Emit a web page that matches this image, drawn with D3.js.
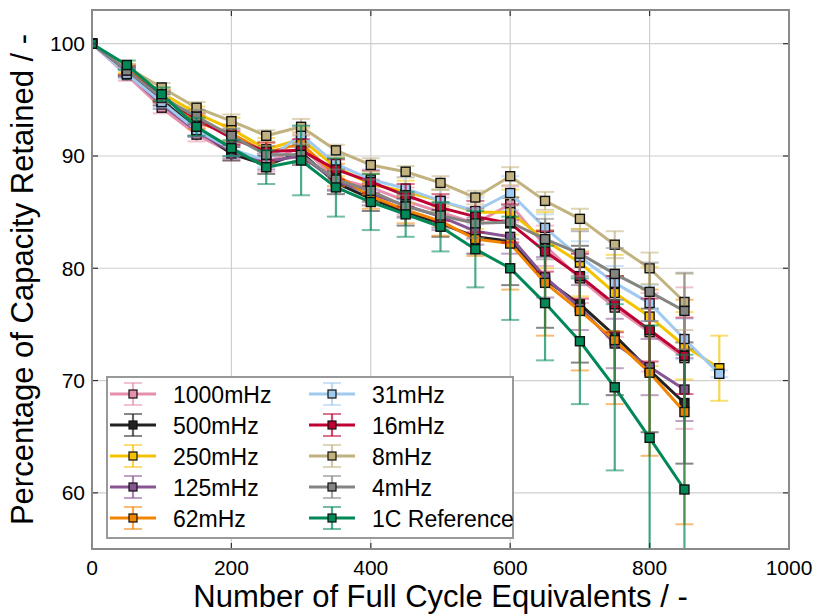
<!DOCTYPE html>
<html>
<head>
<meta charset="utf-8">
<script src="https://cdn.jsdelivr.net/npm/d3@7"></script>
<style>
  body { margin: 0; background: #fff; }
  text { font-family: "Liberation Sans", Arial, Helvetica, sans-serif; fill: #000; }
</style>
</head>
<body>
<div id="chart"></div>
<script>
// cycle numbers (full cycle equivalents)
const cycles = [0, 50, 100, 150, 200, 250, 300, 350, 400, 450, 500, 550, 600, 650, 700, 750, 800, 850, 900];

const seriesNames = ["1000mHz", "500mHz", "250mHz", "125mHz", "62mHz", "31mHz", "16mHz", "8mHz", "4mHz", "1C Reference"];
const seriesColors = ["#e68fac", "#222222", "#f3c300", "#875692", "#f38400", "#a1caf1", "#be0032", "#c2b280", "#848482", "#008856"];

// capacity retained (%) per series
const val1000 = [100, 97.2, 94.3, 91.9, 90.3, 89.4, 90.8, 88.0, 87.2, 86.0, 85.0, 84.0, 85.7, 82.0, 79.1, 76.5, 74.3, 72.0];
const val500 = [100, 97.5, 95.0, 92.4, 90.2, 89.2, 90.3, 87.6, 86.2, 85.0, 84.0, 82.8, 82.4, 79.0, 76.8, 74.0, 70.9, 68.0];
const val250 = [100, 97.8, 95.6, 93.8, 92.4, 90.6, 91.5, 89.0, 87.5, 86.8, 86.0, 85.0, 85.0, 82.5, 80.5, 77.8, 75.7, 73.1, 71.1];
const val125 = [100, 97.4, 94.6, 92.2, 90.4, 89.5, 90.0, 87.8, 86.6, 85.6, 84.6, 83.3, 82.8, 79.2, 76.5, 73.3, 71.2, 69.2];
const val62 = [100, 97.7, 95.4, 93.0, 92.0, 90.3, 91.1, 88.3, 86.4, 85.2, 84.2, 82.6, 82.2, 78.7, 76.2, 73.6, 70.7, 67.2];
const val31 = [100, 97.3, 94.8, 92.3, 90.6, 89.6, 91.9, 89.3, 87.9, 87.1, 86.0, 85.1, 86.7, 83.6, 81.0, 78.7, 76.9, 73.7, 70.6];
const val16 = [100, 97.6, 95.3, 93.3, 91.6, 90.4, 90.5, 88.8, 87.7, 86.5, 85.4, 84.6, 84.0, 81.5, 79.3, 76.8, 74.5, 72.2];
const val8 = [100, 97.9, 96.1, 94.3, 93.1, 91.8, 92.6, 90.5, 89.2, 88.6, 87.6, 86.3, 88.2, 86.0, 84.4, 82.1, 80.0, 77.0];
const val4 = [100, 97.6, 95.2, 93.5, 91.8, 90.1, 90.1, 87.9, 86.9, 85.5, 84.7, 84.0, 84.1, 82.6, 81.3, 79.5, 77.9, 76.2];
const valRef = [100, 98.1, 95.5, 92.6, 90.7, 89.0, 89.6, 87.2, 85.9, 84.8, 83.7, 81.7, 80.0, 76.9, 73.5, 69.4, 64.9, 60.3];

// error bar half widths (%)
const err1000 = [0, 0.5, 0.5, 0.6, 0.7, 0.8, 1.0, 1.0, 1.2, 1.2, 1.3, 1.4, 1.6, 1.8, 2.2, 2.6, 3.5, 6.3];
const err500 = [0, 0.4, 0.5, 0.6, 0.6, 0.8, 0.9, 1.0, 1.1, 1.2, 1.2, 1.5, 3.9, 4.3, 5.2, 5.3, 5.5, 5.4];
const err250 = [0, 0.4, 0.5, 0.6, 1.0, 1.0, 1.0, 0.8, 0.9, 1.0, 1.0, 1.5, 2.0, 2.5, 3.0, 3.4, 4.4, 3.0, 2.9];
const err125 = [0, 0.4, 0.4, 0.5, 0.6, 0.7, 0.8, 0.9, 1.0, 1.0, 1.2, 1.2, 1.5, 1.8, 2.0, 2.2, 2.5, 2.8];
const err62 = [0, 0.4, 0.5, 0.6, 0.8, 0.9, 1.0, 1.0, 1.1, 1.2, 1.3, 1.5, 4.1, 4.7, 5.3, 5.7, 7.4, 10.0];
const err31 = [0, 0.4, 0.5, 0.5, 0.6, 0.6, 0.8, 0.8, 0.9, 1.0, 1.0, 1.2, 1.5, 1.2, 1.4, 1.5, 1.6, 1.8, 0.3];
const err16 = [0, 0.4, 0.5, 0.5, 0.6, 0.8, 1.0, 0.9, 1.0, 1.0, 1.2, 1.4, 1.7, 1.8, 2.0, 2.5, 2.8, 3.4];
const err8 = [0, 0.3, 0.4, 0.5, 0.6, 0.5, 0.7, 0.5, 0.6, 0.5, 0.6, 0.6, 0.8, 0.8, 0.9, 1.2, 1.4, 2.5];
const err4 = [0, 0.4, 0.5, 0.6, 0.6, 0.8, 0.9, 0.9, 1.0, 1.0, 1.1, 1.3, 1.5, 1.8, 2.0, 2.3, 2.6, 3.4];
const errRef = [0, 0.4, 0.6, 0.8, 0.7, 1.5, 3.1, 2.6, 2.5, 2.0, 2.2, 3.4, 4.6, 5.1, 5.6, 7.4, 10.0, 12.0];

const xTicks = [0, 200, 400, 600, 800, 1000];
const yTicks = [60, 70, 80, 90, 100];

const allValues = [val1000, val500, val250, val125, val62, val31, val16, val8, val4, valRef];
const allErrors = [err1000, err500, err250, err125, err62, err31, err16, err8, err4, errRef];

const series = seriesNames.map((name, i) => ({
  name: name,
  color: seriesColors[i],
  points: allValues[i].map((v, j) => ({ x: cycles[j], y: v, e: allErrors[i][j] })),
}));

const margin = { top: 10, right: 29, bottom: 67, left: 92 },
  width = 818 - margin.left - margin.right,
  height = 616 - margin.top - margin.bottom;

const svg = d3
  .select("#chart")
  .append("svg")
  .attr("width", 818)
  .attr("height", 616);

const svG = svg
  .append("g")
  .attr("transform", "translate(" + margin.left + "," + margin.top + ")");

const x = d3.scaleLinear().domain([0, 1000]).range([0, width]);
const y = d3.scaleLinear().domain([55, 103]).range([height, 0]);

// grid lines
svG
  .append("g")
  .selectAll("line.gx")
  .data(xTicks)
  .enter()
  .append("line")
  .attr("x1", (d) => x(d))
  .attr("x2", (d) => x(d))
  .attr("y1", 0)
  .attr("y2", height)
  .attr("stroke", "#cfcfcf")
  .attr("stroke-width", 1.2);

svG
  .append("g")
  .selectAll("line.gy")
  .data(yTicks)
  .enter()
  .append("line")
  .attr("x1", 0)
  .attr("x2", width)
  .attr("y1", (d) => y(d))
  .attr("y2", (d) => y(d))
  .attr("stroke", "#cfcfcf")
  .attr("stroke-width", 1.2);

// clip so big error bars stay inside the frame
svg
  .append("defs")
  .append("clipPath")
  .attr("id", "plotclip")
  .append("rect")
  .attr("width", width)
  .attr("height", height);

const plotG = svG.append("g").attr("clip-path", "url(#plotclip)");

const capW = 9;

const drawErrorBar = (g, cx, yTop, yBot, color, cw) => {
  g.append("line")
    .attr("x1", cx).attr("x2", cx)
    .attr("y1", yTop).attr("y2", yBot)
    .attr("stroke", color)
    .attr("stroke-width", 2.2)
    .attr("stroke-opacity", 0.7);
  [yTop, yBot].forEach((yy) => {
    g.append("line")
      .attr("x1", cx - cw).attr("x2", cx + cw)
      .attr("y1", yy).attr("y2", yy)
      .attr("stroke", color)
      .attr("stroke-width", 2)
      .attr("stroke-opacity", 0.55);
  });
};

for (const s of series) {
  const g = plotG.append("g");

  // error bars
  for (const p of s.points) {
    if (p.e > 0) drawErrorBar(g, x(p.x), y(p.y + p.e), y(p.y - p.e), s.color, capW);
  }

  // line
  g.append("path")
    .datum(s.points)
    .attr("fill", "none")
    .attr("stroke", s.color)
    .attr("stroke-width", 3)
    .attr("stroke-linejoin", "round")
    .attr("d", d3.line().x((d) => x(d.x)).y((d) => y(d.y)));

  // square markers
  g.selectAll("rect")
    .data(s.points)
    .enter()
    .append("rect")
    .attr("x", (d) => x(d.x) - 4.5)
    .attr("y", (d) => y(d.y) - 4.5)
    .attr("width", 9)
    .attr("height", 9)
    .attr("fill", s.color)
    .attr("stroke", "#111")
    .attr("stroke-width", 1.4);
}

// ticks on all four sides, pointing inward
const tickLen = 6;
const tickG = svG.append("g").attr("stroke", "#333").attr("stroke-width", 1.2);
xTicks.forEach((t) => {
  tickG.append("line").attr("x1", x(t)).attr("x2", x(t)).attr("y1", height).attr("y2", height - tickLen);
  tickG.append("line").attr("x1", x(t)).attr("x2", x(t)).attr("y1", 0).attr("y2", tickLen);
});
yTicks.forEach((t) => {
  tickG.append("line").attr("x1", 0).attr("x2", tickLen).attr("y1", y(t)).attr("y2", y(t));
  tickG.append("line").attr("x1", width).attr("x2", width - tickLen).attr("y1", y(t)).attr("y2", y(t));
});

// frame
svG
  .append("rect")
  .attr("width", width)
  .attr("height", height)
  .attr("fill", "none")
  .attr("stroke", "#8a8a8a")
  .attr("stroke-width", 2);

// tick labels
svG
  .append("g")
  .selectAll("text")
  .data(xTicks)
  .enter()
  .append("text")
  .attr("x", (d) => x(d))
  .attr("y", height + 26)
  .attr("text-anchor", "middle")
  .style("font-size", "21px")
  .text((d) => d);

svG
  .append("g")
  .selectAll("text")
  .data(yTicks)
  .enter()
  .append("text")
  .attr("x", -7)
  .attr("y", (d) => y(d) + 7.5)
  .attr("text-anchor", "end")
  .style("font-size", "21px")
  .text((d) => d);

// axis titles
svG
  .append("text")
  .attr("x", width / 2)
  .attr("y", height + 58)
  .attr("text-anchor", "middle")
  .style("font-size", "31px")
  .text("Number of Full Cycle Equivalents / -");

svg
  .append("text")
  .attr("transform", "translate(33," + (margin.top + height / 2) + ") rotate(-90)")
  .attr("text-anchor", "middle")
  .style("font-size", "31px")
  .text("Percentage of Capacity Retained / -");

// legend
const legend = svg.append("g").attr("transform", "translate(107,377)");
legend
  .append("rect")
  .attr("width", 406)
  .attr("height", 161)
  .attr("fill", "#fff")
  .attr("stroke", "#999")
  .attr("stroke-width", 2);

series.forEach((s, i) => {
  const col = Math.floor(i / 5),
    row = i % 5;
  const lx = 26 + col * 199,
    ly = 17 + row * 31;
  const g = legend.append("g");
  drawErrorBar(g, lx, ly - 11, ly + 11, s.color, 9);
  g.append("line")
    .attr("x1", lx - 23).attr("x2", lx + 23)
    .attr("y1", ly).attr("y2", ly)
    .attr("stroke", s.color)
    .attr("stroke-width", 3);
  g.append("rect")
    .attr("x", lx - 4).attr("y", ly - 4)
    .attr("width", 8).attr("height", 8)
    .attr("fill", s.color)
    .attr("stroke", "#111")
    .attr("stroke-width", 1.2);
  g.append("text")
    .attr("x", lx + 40)
    .attr("y", ly + 8.5)
    .style("font-size", "23px")
    .text(s.name);
});
</script>
</body>
</html>
